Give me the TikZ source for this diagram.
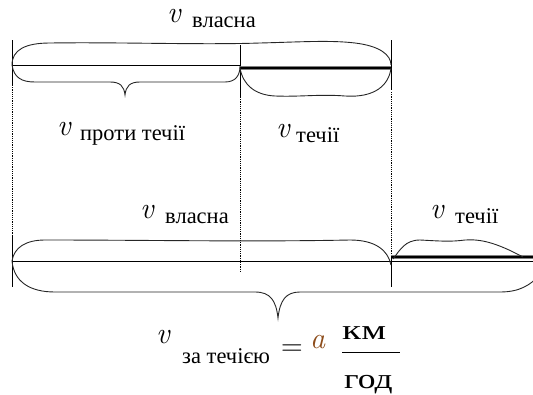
\documentclass[tikz,border=0pt]{standalone}
\usepackage{fontspec}
\newfontfamily\tms{Liberation Serif}
\newfontfamily\lmr{Latin Modern Roman}
\definecolor{acol}{RGB}{140,75,25}
\begin{document}
\begin{tikzpicture}[x=1pt,y=-1pt,
  ln/.style={line width=0.9pt},
  br/.style={line width=0.9pt, color=black!85},
  dotline/.style={line width=1pt, dash pattern=on 1.2pt off 1pt},
  vv/.style={inner sep=0pt, anchor=base west, font=\lmr\fontsize{30}{30}\selectfont\itshape},
  sub/.style={inner sep=0pt, anchor=base west, font=\tms\fontsize{22.5}{22.5}\selectfont},
  frac/.style={inner sep=0pt, anchor=base west, font=\tms\fontsize{28}{28}\selectfont},
]
\useasboundingbox (0,0) rectangle (533,394);
\begin{scope}
\clip (0,0) rectangle (533,394);
% named points
\coordinate (tL) at (12,65);
\coordinate (tM) at (240,65);
\coordinate (tR) at (391,65);
\coordinate (bL) at (12,261);
\coordinate (bR) at (391,261);
\coordinate (bE) at (533,261);
% top section
\draw[ln] (12,40) -- (12,85);
\draw[ln] (240,45) -- (240,97);
\draw[ln] (391,40) -- (391,90);
\draw[dotline] (12,85) -- (12,235);
\draw[dotline] (240,97) -- (240,272);
\draw[dotline] (391,92) -- (391,257);
\draw[ln] (tL) -- (tM);
\draw[gray, line width=4.5pt] (240,68) -- (391,68);
\draw[line width=2.2pt] (240,68) -- (391,68);
% top braces
\draw[br] (tL) .. controls (12,50) and (25,43) .. (50,43) .. controls (120,42) and (200,45) .. (260,43) .. controls (300,42) and (330,40) .. (355,43) .. controls (380,46) and (391,55) .. (tR);
\draw[br] (tL) .. controls (14,78) and (22,82) .. (35,82) -- (110,82) .. controls (120,82) and (124,86) .. (125,95) .. controls (126,86) and (130,82) .. (140,82) -- (225,82) .. controls (236,82) and (240,75) .. (240,66);
\draw[br] (240,68) .. controls (243,85) and (255,95) .. (275,96) .. controls (300,97) and (320,94) .. (345,96) .. controls (375,98) and (389,85) .. (391,68);
% bottom section
\draw[ln] (bL) -- (bE);
\draw[gray, line width=4.5pt] (391,257) -- (533,257);
\draw[line width=2.2pt] (391,257) -- (533,257);
\draw[ln] (12,235) -- (12,287);
\draw[ln] (391,257) -- (391,287);
\draw[br] (bL) .. controls (14,248) and (25,240) .. (45,240) .. controls (150,240) and (250,242) .. (350,240) .. controls (375,240) and (388,250) .. (391,265);
\draw[br] (393,259) .. controls (400,250) and (405,240) .. (420,240) .. controls (440,241) and (450,242) .. (465,240) .. controls (480,239) and (495,242) .. (523,257);
\draw[br] (bL) .. controls (14,282) and (30,292) .. (55,292) -- (255,292) .. controls (270,292) and (276,300) .. (278,318) .. controls (280,300) and (286,292) .. (300,292) -- (500,292) .. controls (520,292) and (530,285) .. (540,275);
\end{scope}
% labels
\node[vv] (v1) at (167,22) {v}; \node[sub] (s1) at (192,27) {власна};
\node[vv] (v2) at (57,135) {v}; \node[sub] (s2) at (80,140) {проти течії};
\node[vv] (v3) at (276,137) {v}; \node[sub] (s3) at (296,142) {течії};
\node[vv] (v4) at (140,218) {v}; \node[sub] (s4) at (165,223) {власна};
\node[vv] (v5) at (430,218) {v}; \node[sub] (s5) at (455,223) {течії};
% formula
\node[vv] (v6) at (156,343) {v}; \node[sub] (s6) at (182,363) {за течією};
\node[inner sep=0pt, anchor=base, font=\lmr\fontsize{30}{30}\selectfont] (eq) at (292,355) {=};
\node[vv, text=acol] (a) at (310,348) {a};
\coordinate (fb1) at (342,352);
\coordinate (fb2) at (400,352);
\draw[ln] (fb1) -- (fb2);
\node[frac] (km) at (342,339) {\scalebox{1.4}[1]{км}};
\node[frac] (hod) at (344,388) {\scalebox{1.27}[1]{год}};
\end{tikzpicture}
\end{document}
